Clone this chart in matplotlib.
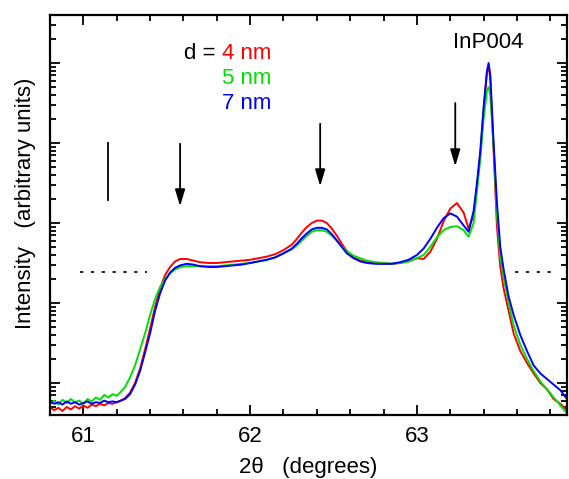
import matplotlib
matplotlib.use("Agg")
import matplotlib.pyplot as plt
import numpy as np
from matplotlib.ticker import MultipleLocator, FixedLocator

plt.rcParams['font.family'] = ['Liberation Sans', 'DejaVu Sans']
plt.rcParams['xtick.direction'] = 'in'
plt.rcParams['ytick.direction'] = 'in'
plt.rcParams['xtick.top'] = True
plt.rcParams['ytick.right'] = True
plt.rcParams['xtick.major.size'] = 7
plt.rcParams['ytick.major.size'] = 7
plt.rcParams['xtick.minor.size'] = 4
plt.rcParams['ytick.minor.size'] = 4
plt.rcParams['xtick.major.width'] = 1.3
plt.rcParams['ytick.major.width'] = 1.3
plt.rcParams['xtick.minor.width'] = 1.3
plt.rcParams['ytick.minor.width'] = 1.3
plt.rcParams['xtick.labelsize'] = 16
plt.rcParams['xtick.major.pad'] = 8
plt.rcParams['ytick.labelcolor'] = 'none'
plt.rcParams['axes.linewidth'] = 1.6

# 2theta (degrees), shared by the three scans
two_theta = [
    60.800, 60.825, 60.850, 60.875, 60.900, 60.925, 60.950, 60.975, 61.000, 61.025,
    61.050, 61.075, 61.100, 61.125, 61.150, 61.175, 61.200, 61.225, 61.250,
    61.28, 61.31, 61.34, 61.37, 61.40, 61.43, 61.46, 61.49, 61.52, 61.55, 61.58,
    61.62, 61.66, 61.70, 61.75, 61.80, 61.85, 61.90, 61.95, 62.00, 62.05, 62.10, 62.15, 62.20,
    62.25, 62.28, 62.31, 62.34, 62.37, 62.40, 62.43, 62.46, 62.49, 62.52, 62.55, 62.58, 62.62, 62.66, 62.70,
    62.75, 62.80, 62.85, 62.90, 62.95, 63.00,
    63.04, 63.08, 63.12, 63.16, 63.20, 63.24, 63.28, 63.31, 63.34,
    63.36, 63.38, 63.40, 63.42, 63.43, 63.44, 63.46, 63.48, 63.50, 63.52, 63.55,
    63.58, 63.62, 63.66, 63.70, 63.74, 63.78, 63.82, 63.86, 63.90,
]

# log10(intensity)
log_4nm = [
    0.70, 0.66, 0.69, 0.65, 0.70, 0.67, 0.71, 0.68, 0.72, 0.69,
    0.73, 0.71, 0.74, 0.72, 0.75, 0.74, 0.76, 0.78, 0.81,
    0.88, 1.00, 1.18, 1.42, 1.68, 1.95, 2.18, 2.35, 2.45, 2.52, 2.55,
    2.55, 2.53, 2.51, 2.50, 2.50, 2.51, 2.52, 2.53, 2.54, 2.56, 2.58, 2.61, 2.66,
    2.73, 2.80, 2.88, 2.95, 3.00, 3.03, 3.03, 3.00, 2.93, 2.84, 2.74, 2.65, 2.57, 2.53, 2.51,
    2.50, 2.49, 2.49, 2.50, 2.52, 2.56,
    2.55, 2.64, 2.80, 3.02, 3.18, 3.25, 3.13, 2.93, 3.10,
    3.45, 3.85, 4.40, 4.88, 4.97, 4.80, 3.90, 2.95, 2.45, 2.18, 1.90,
    1.62, 1.40, 1.25, 1.12, 1.00, 0.92, 0.80, 0.74, 0.66,
]
log_5nm = [
    0.74, 0.78, 0.73, 0.79, 0.75, 0.80, 0.76, 0.78, 0.74, 0.80,
    0.77, 0.82, 0.79, 0.85, 0.82, 0.86, 0.84, 0.89, 0.95,
    1.07, 1.22, 1.42, 1.62, 1.85, 2.05, 2.20, 2.30, 2.37, 2.42, 2.45,
    2.46, 2.46, 2.46, 2.46, 2.46, 2.47, 2.48, 2.49, 2.50, 2.52, 2.54, 2.57, 2.62,
    2.67, 2.72, 2.78, 2.84, 2.89, 2.91, 2.91, 2.89, 2.84, 2.78, 2.71, 2.65, 2.59, 2.56, 2.53,
    2.51, 2.50, 2.49, 2.50, 2.52, 2.56,
    2.60, 2.70, 2.82, 2.91, 2.95, 2.96, 2.91, 2.83, 3.00,
    3.40, 3.80, 4.30, 4.65, 4.70, 4.60, 3.95, 3.10, 2.58, 2.32, 2.00,
    1.72, 1.48, 1.30, 1.15, 1.02, 0.92, 0.82, 0.72, 0.62,
]
log_7nm = [
    0.77, 0.74, 0.76, 0.73, 0.77, 0.74, 0.76, 0.73, 0.75, 0.77,
    0.74, 0.76, 0.75, 0.78, 0.76, 0.77, 0.76, 0.78, 0.80,
    0.86, 0.98, 1.15, 1.38, 1.62, 1.90, 2.12, 2.28, 2.38, 2.44, 2.47,
    2.49, 2.48, 2.46, 2.45, 2.45, 2.46, 2.47, 2.48, 2.50, 2.52, 2.54, 2.57, 2.62,
    2.68, 2.74, 2.81, 2.87, 2.92, 2.94, 2.94, 2.92, 2.86, 2.78, 2.70, 2.62, 2.56, 2.52, 2.50,
    2.49, 2.49, 2.49, 2.51, 2.54, 2.60,
    2.68, 2.80, 2.94, 3.06, 3.12, 3.08, 2.97, 2.89, 3.15,
    3.50, 3.90, 4.45, 4.90, 5.00, 4.85, 4.00, 3.25, 2.70, 2.42, 2.08,
    1.85, 1.60, 1.40, 1.22, 1.12, 1.05, 0.98, 0.91, 0.80,
]

labels = ['4 nm', '5 nm', '7 nm']
colors = ['#ff0000', '#00e000', '#0000ff']

fig = plt.figure(figsize=(5.69, 4.79), dpi=100)
ax = fig.add_axes([50 / 569, 1 - 415 / 479, 517 / 569, 400 / 479])

x = np.array(two_theta)
for logs, c in zip([log_4nm, log_5nm, log_7nm], colors):
    ax.plot(x, 10 ** np.array(logs), color=c, lw=1.4)

ax.set_yscale('log')
ax.set_xlim(60.8, 63.9)
ax.set_ylim(10 ** 0.6, 10 ** 5.6)
ax.xaxis.set_major_locator(MultipleLocator(1))
ax.xaxis.set_minor_locator(MultipleLocator(0.2))
decades = [10.0 ** d for d in range(0, 6)]
ax.yaxis.set_major_locator(FixedLocator(decades))
ax.yaxis.set_minor_locator(FixedLocator([k * d for d in decades for k in range(2, 10)]))

# markers: plain bar, arrows, dotted guides
ax.plot([61.15, 61.15], [10 ** 4.0, 10 ** 3.29], color='k', lw=1.3)
for ax_x, y0, y1 in [(61.58, 3.99, 3.21), (62.42, 4.24, 3.46), (63.23, 4.50, 3.71)]:
    ax.annotate('', xy=(ax_x, 10 ** y1), xytext=(ax_x, 10 ** y0),
                arrowprops=dict(arrowstyle='-|>,head_length=1.0,head_width=0.3',
                                color='k', lw=1.3, shrinkA=0, shrinkB=0))
ax.plot([60.98, 61.38], [10 ** 2.39, 10 ** 2.39], color='k', lw=1.2, ls=(0, (2, 4.5)))
ax.plot([63.59, 63.81], [10 ** 2.39, 10 ** 2.39], color='k', lw=1.2, ls=(0, (2, 4.5)))

# legend as coloured text
ax.text(61.83, 10 ** 5.12, 'd = ', fontsize=16, ha='right', va='center')
for i, (lab, c) in enumerate(zip(labels, colors)):
    ax.text(61.83, 10 ** (5.12 - 0.315 * i), lab, fontsize=16, color=c, ha='left', va='center')
ax.text(63.43, 10 ** 5.25, 'InP004', fontsize=16, ha='center', va='center')

ax.set_xlabel('2θ   (degrees)', fontsize=16, labelpad=7)
ax.set_ylabel('Intensity   (arbitrary units)', fontsize=16)
ax.yaxis.set_label_coords(-0.028, 0.53)

fig.savefig('out.png', dpi=100)
